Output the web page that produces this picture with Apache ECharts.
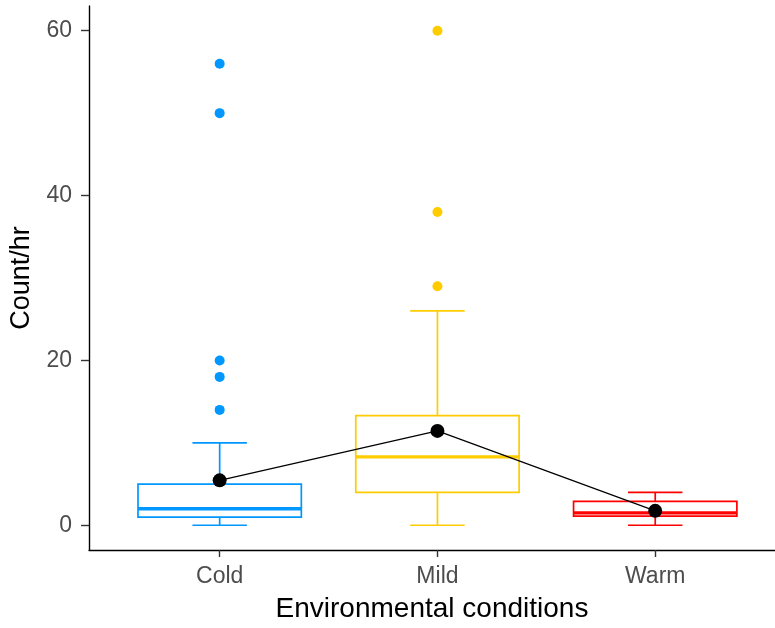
<!DOCTYPE html>
<html>
<head>
<meta charset="utf-8">
<script src="https://cdn.jsdelivr.net/npm/echarts@6/dist/echarts.min.js"></script>
<style>
  html, body { margin: 0; padding: 0; background: #fff; }
  #chart { width: 775px; height: 628px; }
</style>
</head>
<body>
<div id="chart"></div>
<script>
// Count per hour under three environmental conditions
const categories = ['Cold', 'Mild', 'Warm'];
const whiskerLow = [0, 0, 0];
const lowerQuartile = [1, 4, 1.1];
const medians = [2, 8.3, 1.5];
const upperQuartile = [5, 13.3, 2.9];
const whiskerHigh = [10, 26, 4];
const means = [5.45, 11.45, 1.75];
const coldOutliers = [14, 18, 20, 50, 56];
const mildOutliers = [29, 38, 60];
const warmOutliers = [];
const yTicks = [0, 20, 40, 60];

const colors = ['#0098FF', '#FFCC00', '#FF0000'];
const outlierGroups = [coldOutliers, mildOutliers, warmOutliers];
const FONT = 'Liberation Sans, Arial, sans-serif';

const boxData = categories.map((c, i) => [
  i + 1, whiskerLow[i], lowerQuartile[i], medians[i], upperQuartile[i], whiskerHigh[i]
]);

function renderBox(params, api) {
  const i = params.dataIndex;
  const x = api.value(0);
  const unit = api.size([1, 0])[0];
  const color = colors[i];
  const pLow = api.coord([x, api.value(1)]);
  const pQ1 = api.coord([x, api.value(2)]);
  const pMed = api.coord([x, api.value(3)]);
  const pQ3 = api.coord([x, api.value(4)]);
  const pHigh = api.coord([x, api.value(5)]);
  const capHalf = unit * 0.25 / 2;
  const boxHalf = unit * 0.75 / 2;
  const lw = 1.7;
  const line = (x1, y1, x2, y2, w) => ({
    type: 'line',
    shape: { x1, y1, x2, y2 },
    style: { stroke: color, lineWidth: w || lw }
  });
  return {
    type: 'group',
    children: [
      line(pLow[0], pLow[1], pHigh[0], pHigh[1]),
      line(pLow[0] - capHalf, pLow[1], pLow[0] + capHalf, pLow[1]),
      line(pHigh[0] - capHalf, pHigh[1], pHigh[0] + capHalf, pHigh[1]),
      {
        type: 'rect',
        shape: { x: pQ3[0] - boxHalf, y: pQ3[1], width: boxHalf * 2, height: pQ1[1] - pQ3[1] },
        style: { fill: '#fff', stroke: color, lineWidth: lw }
      },
      line(pMed[0] - boxHalf, pMed[1], pMed[0] + boxHalf, pMed[1], 3.4)
    ]
  };
}

const outlierSeries = outlierGroups.map((vals, i) => ({
  type: 'scatter',
  name: categories[i],
  data: vals.map(v => [i + 1, v]),
  symbol: 'circle',
  symbolSize: 10,
  itemStyle: { color: colors[i], opacity: 1 },
  z: 3
}));

const chart = echarts.init(document.getElementById('chart'), null, { renderer: 'canvas' });
chart.setOption({
  animation: false,
  backgroundColor: '#fff',
  grid: { left: 89, right: 0, top: 6, bottom: 77, containLabel: false },
  xAxis: {
    type: 'value',
    min: 0.4,
    max: 3.55,
    name: 'Environmental conditions',
    nameLocation: 'middle',
    nameGap: 45,
    nameTextStyle: { color: '#000', fontSize: 28, fontFamily: FONT },
    axisLine: { show: true, onZero: false, lineStyle: { color: '#000', width: 1.4 } },
    axisTick: { show: true, length: 7, customValues: [1, 2, 3], lineStyle: { color: '#333', width: 1.4 } },
    axisLabel: {
      customValues: [1, 2, 3],
      formatter: v => categories[Math.round(v) - 1],
      color: '#4D4D4D', fontSize: 23, fontFamily: FONT, margin: 15
    },
    splitLine: { show: false }
  },
  yAxis: {
    type: 'value',
    min: -3,
    max: 63,
    name: 'Count/hr',
    nameLocation: 'middle',
    nameGap: 49,
    nameTextStyle: { color: '#000', fontSize: 27, fontFamily: FONT },
    axisLine: { show: true, onZero: false, lineStyle: { color: '#000', width: 1.4 } },
    axisTick: { show: true, length: 8, customValues: yTicks, lineStyle: { color: '#333', width: 1.4 } },
    axisLabel: {
      customValues: yTicks,
      color: '#4D4D4D', fontSize: 23, fontFamily: FONT, margin: 17
    },
    splitLine: { show: false }
  },
  series: [
    {
      type: 'custom',
      renderItem: renderBox,
      data: boxData,
      encode: { x: 0, y: [1, 2, 3, 4, 5] },
      z: 2
    },
    ...outlierSeries,
    {
      type: 'line',
      name: 'Mean',
      data: means.map((m, i) => [i + 1, m]),
      symbol: 'circle',
      symbolSize: 14,
      showSymbol: true,
      lineStyle: { color: '#000', width: 1.2 },
      itemStyle: { color: '#000' },
      z: 5
    }
  ]
});
</script>
</body>
</html>
